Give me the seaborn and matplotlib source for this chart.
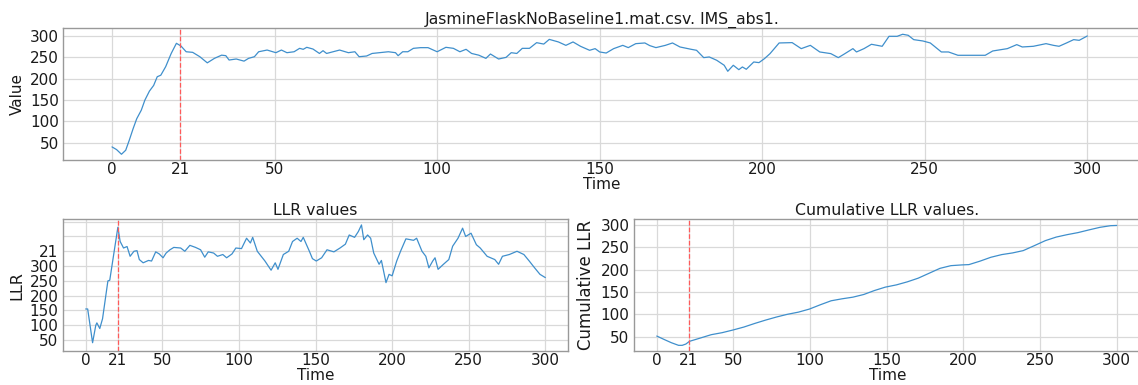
import matplotlib
matplotlib.use("Agg")
import matplotlib.pyplot as plt
import seaborn as sns

# Raw sensor signal
value_time = [0, 1.4, 2.9, 4.2, 5.3, 6.5, 7.6, 9, 10.1, 11.5, 12.8, 13.9, 15, 16.5, 18.2, 19.8,
              21.2, 22.8, 24.8, 27, 29.3, 31.5, 33.7, 35, 36, 38.2, 40.6, 42, 43.8, 45.1, 47.7,
              50.4, 52.1, 53.8, 56, 57.7, 58.8, 59.9, 61.8, 63.8, 64.9, 66, 70, 72.7, 74.7, 76,
              78.3, 80, 82.2, 85, 87.2, 88, 89.4, 91, 92.7, 94.9, 97.2, 98.8, 100, 102.7, 105,
              107, 108.9, 110.6, 112.8, 115, 116.4, 118.9, 121.2, 122.8, 124.5, 126.2, 128.4,
              130.6, 132.8, 134.5, 137.3, 139.6, 141.8, 144.1, 146.9, 148.6, 150, 152, 154.3,
              157.1, 158.8, 161.1, 163.9, 165.4, 167.3, 170.2, 172.4, 174.7, 178.1, 179.8, 182,
              183.7, 186, 188.3, 189.4, 191.1, 192.8, 193.9, 195.1, 197.4, 199, 200.7, 202.4,
              205.2, 209.2, 212, 214.8, 217.7, 221.1, 223.4, 225.1, 227.9, 229, 231.3, 233.6,
              236.9, 239, 241.5, 243.2, 244.9, 246.6, 249.4, 251.7, 255.1, 257.3, 260.2, 263,
              268.6, 270.9, 275.4, 278.3, 280, 283.4, 287.3, 289.6, 291.3, 293.6, 295.8, 297.5, 300]
value_vals = [39.8, 33.5, 22.6, 32, 55.5, 83, 106, 126, 149.5, 170.7, 184, 204.4, 208, 228, 259, 282.8,
              276.5, 263, 261.6, 251.4, 237, 247.5, 255, 253.8, 243.6, 246, 241, 247.5, 251.4, 263, 267,
              260.8, 267, 260.8, 263, 271, 268.7, 273.4, 269.4, 259, 265.5, 259, 267, 260.8, 263, 251.4,
              253, 259, 260.8, 263, 260.8, 253.8, 263, 263, 271, 272.6, 272.6, 267, 263, 273.4, 271,
              263, 268.7, 259, 255, 247.5, 257.7, 246, 249.8, 260.8, 259, 271, 271,
              284.3, 281, 292, 286, 278, 286, 275.8, 266.4, 270.3, 262.5, 260, 270.3,
              278, 272.7, 282, 283.6, 277.4, 272.7, 278, 283.6, 274.2, 268.8, 266.4, 249.2,
              250.8, 243, 231.3, 217.2, 231.3, 221, 227.3, 221.9, 239, 237.5, 246.9, 258.6,
              283.6, 284.4, 270.3, 278, 262.5, 258.6, 249.2, 257, 270.3, 262.5, 270.3, 280.5,
              275.8, 299.2, 299.2, 304, 301.6, 291.4, 288.3, 283.6, 262.5, 262.5, 254.7, 254.7,
              254.7, 264.8, 270.3, 279.7, 274.2, 275.8, 282, 278, 275.8, 283.6, 291.4, 289.8, 300]

# Log-likelihood ratio per time step
llr_time = [0, 1.3, 4.5, 6.6, 7.3, 9.2, 11, 14.5, 15.7, 21, 22.5, 24.7, 27, 29, 31.5, 33.5, 35,
            37.5, 41, 43, 45.7, 48, 50.5, 52.5, 55, 57.5, 62, 64.7, 68, 71.7, 75, 77.7, 80,
            83.5, 86, 89.5, 92, 95.5, 98, 101.7, 105, 107.5, 109, 112, 117, 121, 123.7, 125.5,
            129, 132.5, 135, 138, 140.5, 142, 146, 148, 150.5, 154, 157.5, 162, 166, 169.5, 172,
            175.5, 178, 180, 181.5, 184, 186, 188, 191.5, 193, 196, 198, 200, 203, 205.5, 209,
            214, 216, 219.5, 222, 224, 226.5, 228, 230, 233.5, 237, 239.5, 243, 246, 248,
            251.5, 255, 257.5, 262, 267, 269.5, 272, 276.5, 281.5, 286, 289.5, 293, 296.5, 300]
llr_vals = [155, 155, 41, 100, 108, 89, 122, 250, 252, 431, 383, 361, 366, 333, 350, 352, 322,
            311, 319, 317, 348, 341, 328, 344, 355, 363, 361, 350, 370, 363, 355, 330, 348,
            344, 333, 339, 328, 341, 361, 359, 394, 378, 397, 350, 317, 286, 311, 289,
            339, 350, 383, 394, 383, 397, 350, 325, 317, 328, 355, 348, 361, 374, 405,
            397, 417, 439, 389, 405, 394, 344, 306, 319, 244, 272, 267, 317, 350, 392,
            387, 394, 350, 333, 294, 317, 328, 289, 306, 322, 367, 394, 428, 400,
            411, 372, 361, 333, 322, 306, 333, 339, 350, 339, 317, 294, 272, 261]
llr_tick_pos = [50, 100, 150, 200, 250, 300, 350, 400, 450]
llr_tick_labels = ["50", "100", "150", "200", "250", "300", "21", "", ""]

# Running total of the LLR
cum_time = [0, 4.7, 9.5, 14.2, 16.6, 19, 21.3, 28.4, 35.5, 42.6, 49.7, 56.8, 64, 71, 78, 85,
            92.4, 99.5, 106.6, 113.7, 120.8, 127.9, 135, 142, 149, 156.3, 163.4, 170.5, 177.6,
            184.7, 191.8, 199, 203.6, 210.7, 217.9, 225, 232, 239, 246.3, 253.4, 260.5, 267.6,
            274.7, 281.8, 289, 296, 300]
cum_vals = [51.5, 44, 36.6, 30.7, 30.7, 33.6, 39.6, 47, 54.5, 59, 65, 71.6, 79.8, 87.2, 94, 100,
            105, 111.8, 121.4, 130.4, 134.8, 138.5, 144.5, 153.4, 160.9, 166, 172.8, 181, 192,
            203, 209, 210.7, 211.4, 219, 227.8, 233.8, 237.5, 242.7, 253.9, 265, 273, 278.4,
            283, 289, 294.8, 298.5, 299]

time_ticks = [0, 21, 50, 100, 150, 200, 250, 300]
change_point = 21

sns.set_theme(style="whitegrid")
plt.rcParams["font.family"] = ["DejaVu Sans"]
plt.rcParams["text.color"] = "0.1"
plt.rcParams["axes.labelcolor"] = "0.1"
plt.rcParams["xtick.color"] = "0.1"
plt.rcParams["ytick.color"] = "0.1"
FS = 11
TITLE_FS = 11.3

fig = plt.figure(figsize=(11.38, 3.85), dpi=100)
ax_top = fig.add_axes([0.0556, 0.5836, 0.947, 0.3429])
ax_llr = fig.add_axes([0.0551, 0.0883, 0.4443, 0.3421])
ax_cum = fig.add_axes([0.5569, 0.0883, 0.446, 0.3421])

line_color = "#3f8fcc"
sns.lineplot(x=value_time, y=value_vals, ax=ax_top, color=line_color, linewidth=0.9)
sns.lineplot(x=llr_time, y=llr_vals, ax=ax_llr, color=line_color, linewidth=0.9)
sns.lineplot(x=cum_time, y=cum_vals, ax=ax_cum, color=line_color, linewidth=0.9)

for ax in (ax_top, ax_llr, ax_cum):
    ax.axvline(change_point, color="#ff5a5a", linestyle="--", linewidth=0.9)
    ax.set_xticks(time_ticks)
    ax.set_xlabel("Time", fontsize=FS, labelpad=0)
    ax.tick_params(axis="x", labelsize=FS, length=0, pad=1.5)
    ax.tick_params(axis="y", labelsize=FS, length=0, pad=3)
    for s in ax.spines.values():
        s.set_color("0.6")
        s.set_linewidth(1.0)
    ax.grid(color="0.85", linewidth=0.9)

# the top and right panels run a little past the right edge of the figure
ax_top.set_xlim(-15, 316.5)
ax_llr.set_xlim(-15, 315)
ax_cum.set_xlim(-15, 316)

ax_top.set_ylim(8.4, 318)
ax_top.set_yticks([50, 100, 150, 200, 250, 300])
ax_top.set_ylabel("Value", fontsize=FS)
ax_top.set_title("JasmineFlaskNoBaseline1.mat.csv. IMS_abs1.", fontsize=TITLE_FS, pad=3)

ax_llr.set_ylim(13, 458)
ax_llr.set_yticks(llr_tick_pos)
ax_llr.set_yticklabels(llr_tick_labels)
ax_llr.set_ylabel("LLR", fontsize=11.5)
ax_llr.set_title("LLR values", fontsize=TITLE_FS, pad=3)

ax_cum.set_ylim(18, 312.8)
ax_cum.set_yticks([50, 100, 150, 200, 250, 300])
ax_cum.set_ylabel("Cumulative LLR", fontsize=12)
ax_cum.set_title("Cumulative LLR values.", fontsize=TITLE_FS, pad=3)

fig.savefig("out.png", dpi=100)
